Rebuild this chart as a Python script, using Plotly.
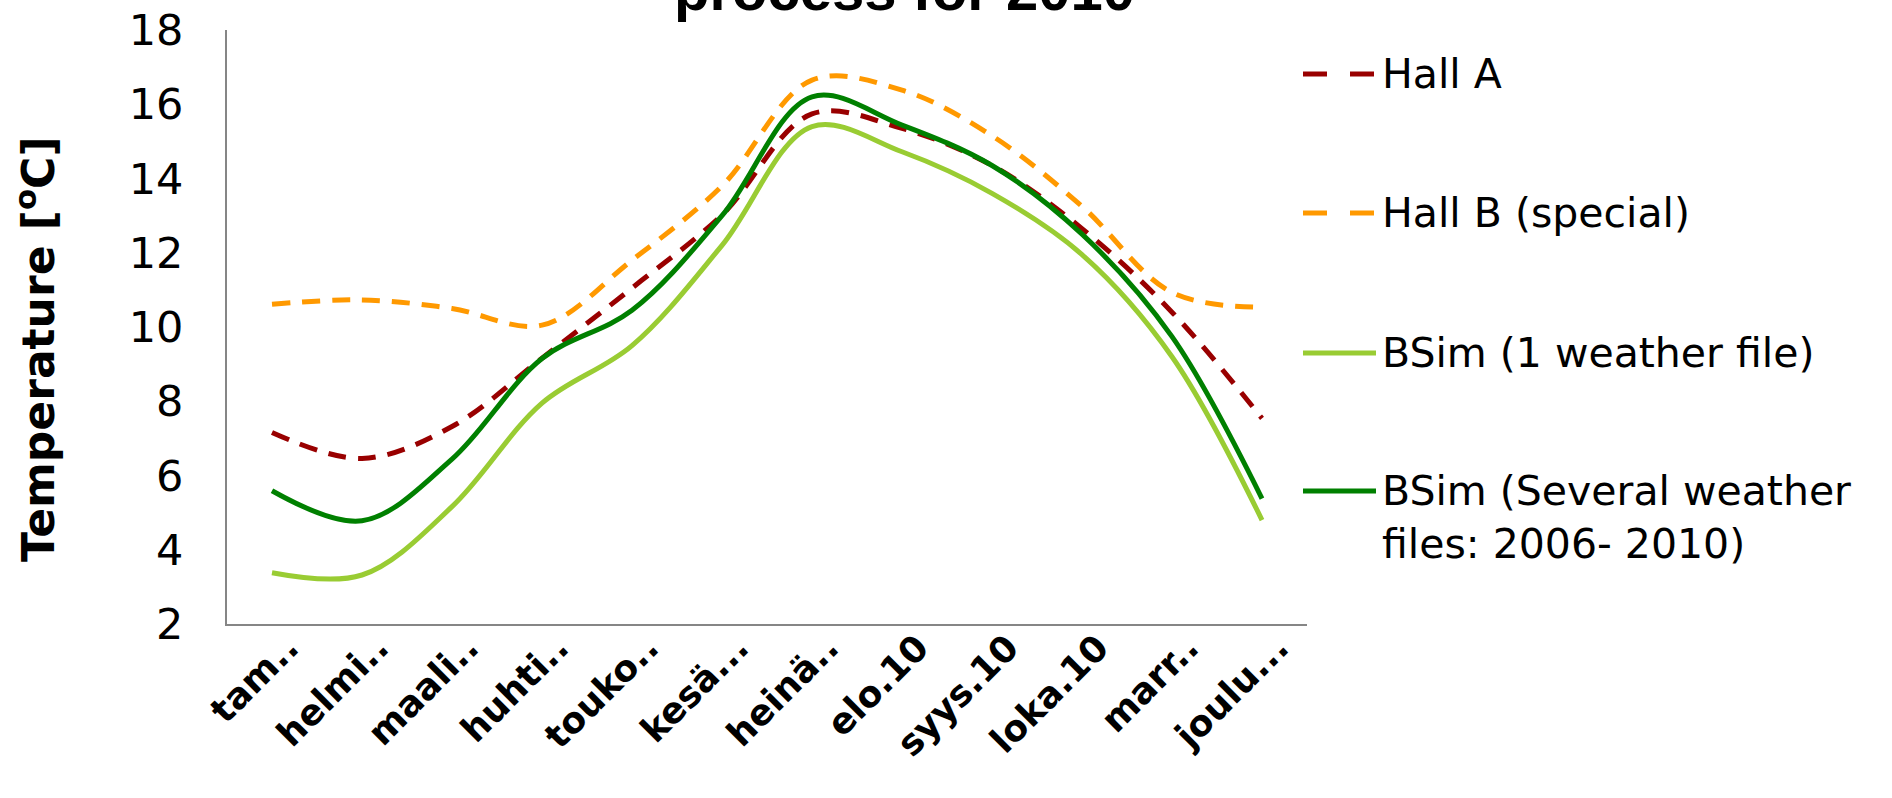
import plotly.graph_objects as go

# Monthly categories (Finnish month abbreviations, 2010)
months = ["tam..", "helmi..", "maali..", "huhti..", "touko..", "kesä...",
          "heinä..", "elo.10", "syys.10", "loka.10", "marr..", "joulu..."]

# Monthly mean temperatures [°C]
hall_a = [7.16, 6.46, 7.32, 9.16, 11.05, 13.02, 15.74, 15.35, 14.35, 12.65, 10.4, 7.54]
hall_b = [10.61, 10.73, 10.5, 10.05, 11.8, 13.8, 16.65, 16.38, 15.15, 13.25, 10.93, 10.53]
bsim_one = [3.38, 3.32, 5.16, 7.95, 9.5, 12.2, 15.4, 14.72, 13.6, 11.95, 9.2, 4.8]
bsim_several = [5.59, 4.78, 6.44, 9.15, 10.45, 13.0, 16.2, 15.44, 14.35, 12.5, 9.74, 5.38]

series = [
    ("Hall A", hall_a, "#990000", "18px,12px"),
    ("Hall B (special)", hall_b, "#FF9900", "18px,12px"),
    ("BSim (1 weather file)", bsim_one, "#99CC33", "solid"),
    ("BSim (Several weather<br>files: 2006- 2010)", bsim_several, "#008000", "solid"),
]

FONT = "DejaVu Sans, Verdana, sans-serif"
W, H = 1892, 798
L, R, T, B = 227, 1892 - 1307, 30, 798 - 624
PW, PH = W - L - R, H - T - B

fig = go.Figure()
for name, vals, color, dash in series:
    fig.add_trace(go.Scatter(
        x=months, y=vals, name=name, mode="lines",
        line=dict(color=color, width=5, dash=dash, shape="spline", smoothing=1.0),
        showlegend=False,
    ))


def px_x(px):
    return (px - L) / PW


def px_y(py):
    return (H - B - py) / PH


# legend drawn beside the plot area
legend_rows = [74, 213, 353, 491]
shapes = []
annotations = []
for (name, vals, color, dash), ry in zip(series, legend_rows):
    if dash == "solid":
        shapes.append(dict(type="line", xref="paper", yref="paper",
                           x0=px_x(1303), x1=px_x(1376), y0=px_y(ry), y1=px_y(ry),
                           line=dict(color=color, width=5)))
    else:
        for x0, x1 in [(1303, 1327), (1350, 1374)]:
            shapes.append(dict(type="line", xref="paper", yref="paper",
                               x0=px_x(x0), x1=px_x(x1), y0=px_y(ry), y1=px_y(ry),
                               line=dict(color=color, width=5)))
    two_lines = "<br>" in name
    annotations.append(dict(
        xref="paper", yref="paper", x=px_x(1380), y=px_y(ry),
        xanchor="left", yanchor="top" if two_lines else "middle",
        yshift=26 if two_lines else 0,
        text=name, showarrow=False, align="left",
        font=dict(family=FONT, size=41, color="#000000"),
    ))

# y-axis title
annotations.append(dict(
    xref="paper", yref="paper", x=px_x(36), y=px_y(349), xanchor="center", yanchor="middle",
    text="<b>Temperature [<sup>o</sup>C]</b>", textangle=-90, showarrow=False,
    font=dict(family=FONT, size=44, color="#000000"),
))

# chart title (second line)
annotations.append(dict(
    xref="paper", yref="paper", x=px_x(904), y=1, xanchor="center", yanchor="bottom",
    yshift=6, text="<b>process for 2010</b>", showarrow=False,
    font=dict(family="Liberation Sans Narrow, Liberation Sans, Arial, sans-serif", size=58,
              color="#000000"),
))

fig.update_layout(
    width=W, height=H,
    margin=dict(l=L, r=R, t=T, b=B, pad=0, autoexpand=False),
    paper_bgcolor="white", plot_bgcolor="white",
    shapes=shapes, annotations=annotations,
    font=dict(family=FONT, color="#000000"),
)
fig.update_xaxes(
    type="category", range=[-0.5, len(months) - 0.5],
    showgrid=False, zeroline=False, automargin=False,
    showline=True, linecolor="#868686", linewidth=2, ticks="",
    tickangle=-45, ticklabelstandoff=-14, ticklabelshift=16,
    tickfont=dict(family=FONT, size=36, color="#000000", weight="bold"),
)
fig.update_yaxes(
    range=[2, 18], tickvals=list(range(2, 19, 2)), showgrid=False, zeroline=False,
    automargin=False,
    showline=True, linecolor="#868686", linewidth=2, ticks="",
    ticklabelstandoff=33,
    tickfont=dict(family=FONT, size=43, color="#000000"),
)

fig.write_html("out.html")
